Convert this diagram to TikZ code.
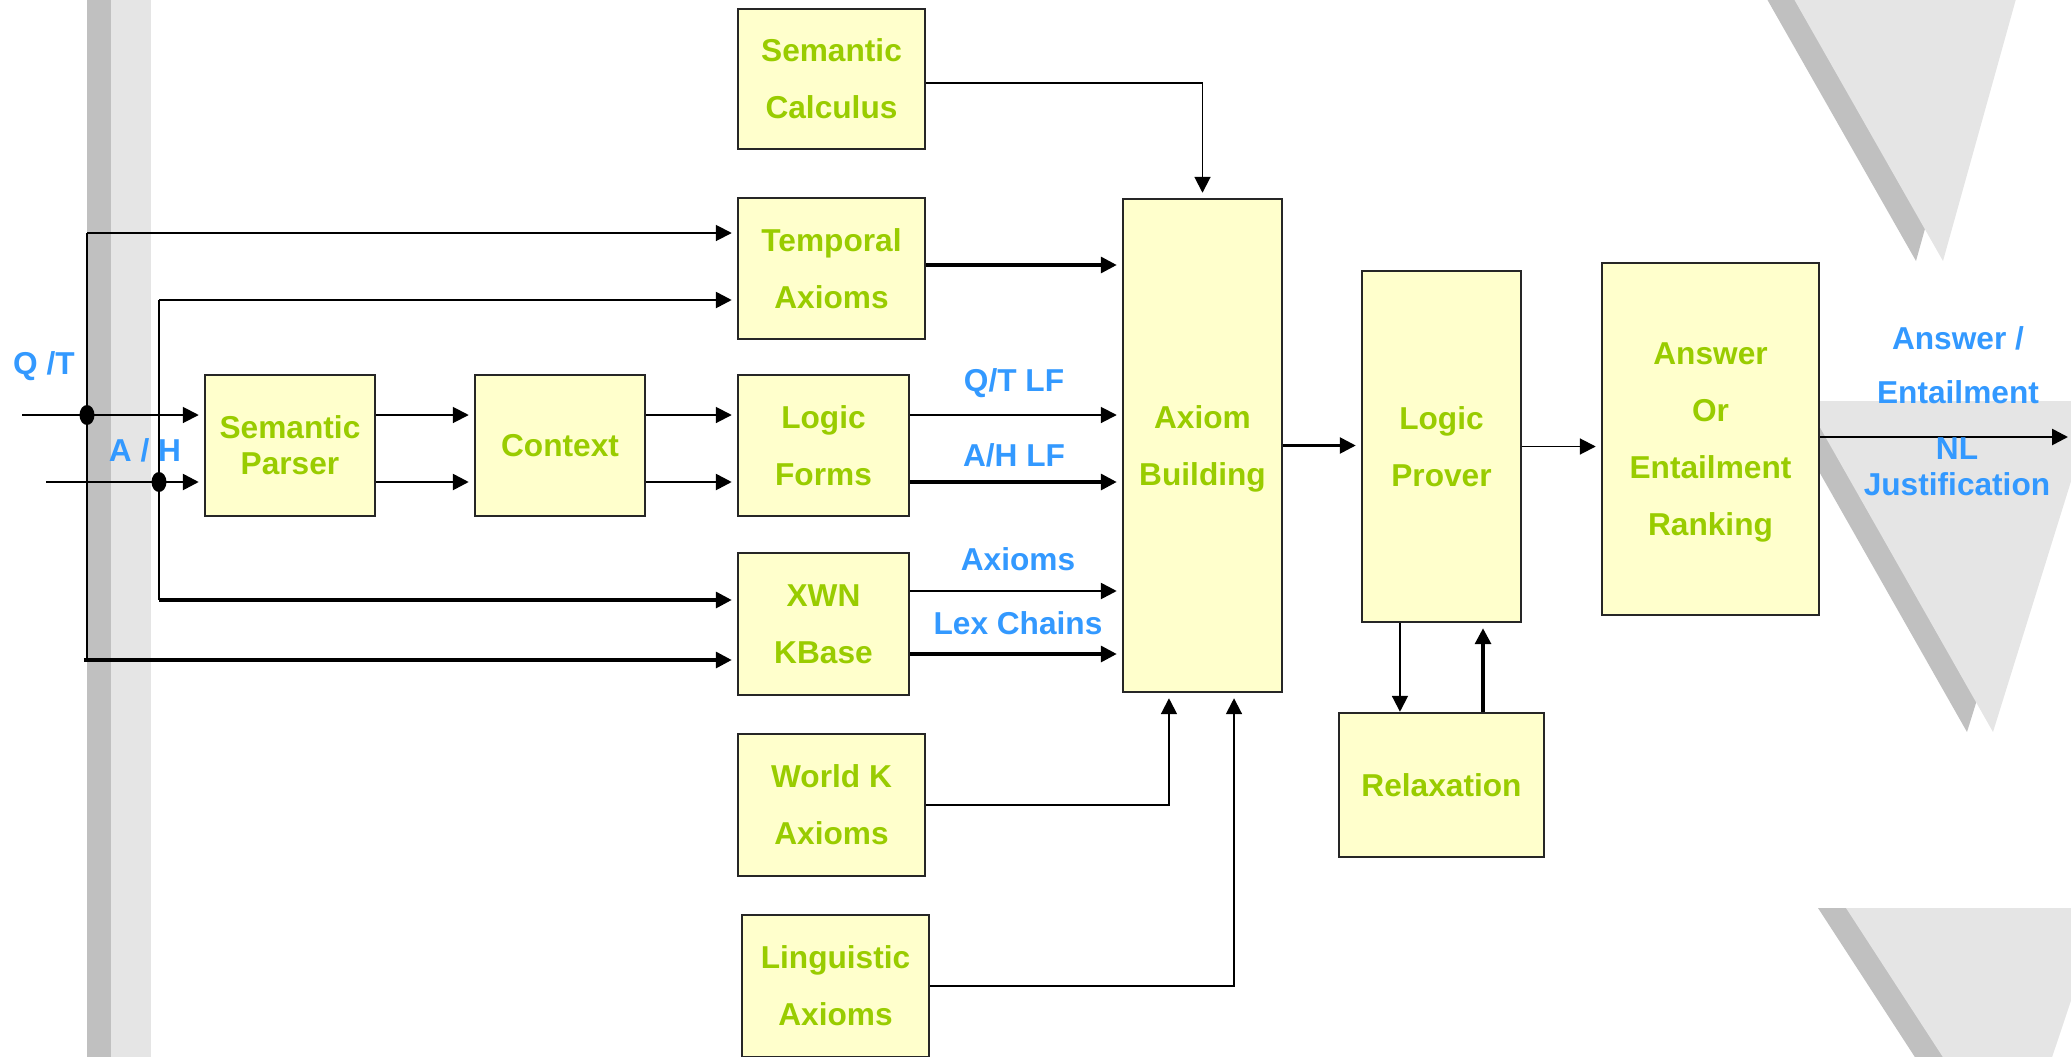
\documentclass[tikz,border=0pt]{standalone}
\usepackage{fontspec}
\setmainfont{Liberation Sans}
\usetikzlibrary{arrows.meta}
\definecolor{boxfill}{HTML}{FFFFCC}
\definecolor{grn}{HTML}{99CC00}
\definecolor{blu}{HTML}{3399FF}
\definecolor{gdark}{HTML}{C0C0C0}
\definecolor{glight}{HTML}{E5E5E5}
\begin{document}
\begin{tikzpicture}[x=0.01cm,y=-0.01cm,
  box/.style 2 args={draw=black!85, line width=0.7pt, fill=boxfill, text=grn, inner sep=0pt, align=center,
    minimum width=#1*0.01cm, minimum height=#2*0.01cm, font=\fontsize{9}{16.2}\selectfont\bfseries},
  lbl/.style={text=blu, font=\fontsize{9}{15.3}\selectfont\bfseries, align=center, inner sep=0pt},
  thinln/.style={line width=0.55pt},
  midln/.style={line width=0.75pt},
  thickln/.style={line width=0.95pt},
  arr/.style={-{Triangle[length=4.5pt,width=4.5pt]}, shorten >=0.05cm},
]
\useasboundingbox (0,0) rectangle (2071,1057);
% background decoration
\begin{scope}
\clip (0,0) rectangle (2071,1057);
\fill[gdark] (87,0) rectangle (111,1057);
\fill[glight] (111,0) rectangle (151,1057);
% top triangle
\fill[gdark] (1722,-80) -- (2011,-80) -- (1916,261) -- cycle;
\fill[glight] (1749,-80) -- (2038,-80) -- (1943,261) -- cycle;
% middle triangle
\fill[gdark] (1779,401) -- (2070,401) -- (1967,732) -- cycle;
\fill[glight] (1805,401) -- (2096,401) -- (1993,732) -- cycle;
% bottom triangle
\fill[gdark] (1818,908) -- (2074,908) -- (1987,1168) -- cycle;
\fill[glight] (1846,908) -- (2102,908) -- (2015,1168) -- cycle;
\end{scope}

% boxes
\node[box={187}{140}] (scalc) at (831.5,79) {Semantic\\Calculus};
\node[box={187}{141}] (temp) at (831.5,268.5) {Temporal\\Axioms};
\node[box={170}{141}, font=\fontsize{9}{10.2}\selectfont\bfseries] (sparser) at (290,445.5) {Semantic\\Parser};
\node[box={170}{141}] (context) at (560,445.5) {Context};
\node[box={171}{141}] (lforms) at (823.5,445.5) {Logic\\Forms};
\node[box={171}{142}] (xwn) at (823.5,624) {XWN\\KBase};
\node[box={187}{142}] (worldk) at (831.5,805) {World K\\Axioms};
\node[box={187}{142}] (ling) at (835.5,986) {Linguistic\\Axioms};
\node[box={159}{493}] (axiom) at (1202.5,445.5) {\raisebox{-0.03cm}{\begin{tabular}{@{}c@{}}Axiom\\Building\end{tabular}}};
\node[box={159}{351}] (prover) at (1441.5,446.5) {Logic\\Prover};
\node[box={205}{144}] (relax) at (1441.5,785) {Relaxation};
\node[box={217}{352}] (answer) at (1710.5,439) {\raisebox{-0.05cm}{\begin{tabular}{@{}c@{}}Answer\\Or\\Entailment\\Ranking\end{tabular}}};

% helper coordinates
\coordinate (qtin) at (22,415);
\coordinate (ahin) at (46,482);
\coordinate (qtdot) at (87,415);
\coordinate (ahdot) at (159,482);
\coordinate (qttop) at (87,233);
\coordinate (qtbot) at (87,660);
\coordinate (ahtop) at (159,300);
\coordinate (ahbot) at (159,600);
\coordinate (xa) at (0,591);
\coordinate (xb) at (0,654);
\coordinate (out) at (2068,437);

% left inputs
\draw[thinln,arr] (qtin) -- (sparser.west |- qtin);
\draw[midln,arr] (ahin) -- (sparser.west |- ahin);
\draw[thinln] (qttop) -- (qtbot);
\draw[thinln] (ahtop) -- (ahbot);
\draw[thinln,arr] (qttop) -- (temp.west |- qttop);
\draw[midln,arr] (ahtop) -- (temp.west |- ahtop);
\draw[thickln,arr] (ahbot) -- (xwn.west |- ahbot);
\draw[thickln,arr] ([xshift=-0.03cm]qtbot) -- (xwn.west |- qtbot);
\fill (qtdot) ellipse [x radius=0.075cm, y radius=0.1cm];
\fill (ahdot) ellipse [x radius=0.075cm, y radius=0.1cm];

% pipeline
\draw[thinln,arr] (sparser.east |- qtin) -- (context.west |- qtin);
\draw[midln,arr] (sparser.east |- ahin) -- (context.west |- ahin);
\draw[thinln,arr] (context.east |- qtin) -- (lforms.west |- qtin);
\draw[midln,arr] (context.east |- ahin) -- (lforms.west |- ahin);
\draw[thinln,arr] (lforms.east |- qtin) -- (axiom.west |- qtin);
\draw[thickln,arr] (lforms.east |- ahin) -- (axiom.west |- ahin);
\draw[midln,arr] (xwn.east |- xa) -- (axiom.west |- xa);
\draw[thickln,arr] (xwn.east |- xb) -- (axiom.west |- xb);
\draw[thickln,arr] ([yshift=0.035cm]temp.east) -- ([yshift=0.035cm]temp.east -| axiom.west);
\draw[thinln,arr] ([yshift=-0.04cm]scalc.east) -| (axiom.north);
\draw[thinln,arr] (worldk.east) -| ([xshift=-0.335cm]axiom.south);
\draw[thinln,arr] (ling.east) -| ([xshift=0.315cm]axiom.south);
\draw[midln,arr] (axiom.east) -- (axiom.east -| prover.west);
\draw[thinln,arr] (prover.east) -- (prover.east -| answer.west);
\draw[midln,arr,shorten >=0pt] (answer.east |- out) -- (out);
\draw[thinln,arr,shorten >=0pt] ([xshift=-0.415cm]prover.south) -- ([xshift=-0.415cm]prover.south |- relax.north);
\draw[thickln,arr] ([xshift=0.415cm]relax.north) -- ([xshift=0.415cm]relax.north |- prover.south);

% labels
\node[lbl] (qt) at (44,366) {Q /T};
\node[lbl] (ah) at (145,450) {A / H};
\node[lbl] (qtlf) at (1014,383) {Q/T LF};
\node[lbl] (ahlf) at (1014,455) {A/H LF};
\node[lbl] (axl) at (1018,559) {Axioms};
\node[lbl] (lex) at (1018,623) {Lex Chains};
\node[lbl] (ans) at (1958,365) {Answer /\\Entailment};
\node[lbl, font=\fontsize{9}{10.2}\selectfont\bfseries] (nl) at (1957,467) {NL\\Justification};
\end{tikzpicture}
\end{document}
